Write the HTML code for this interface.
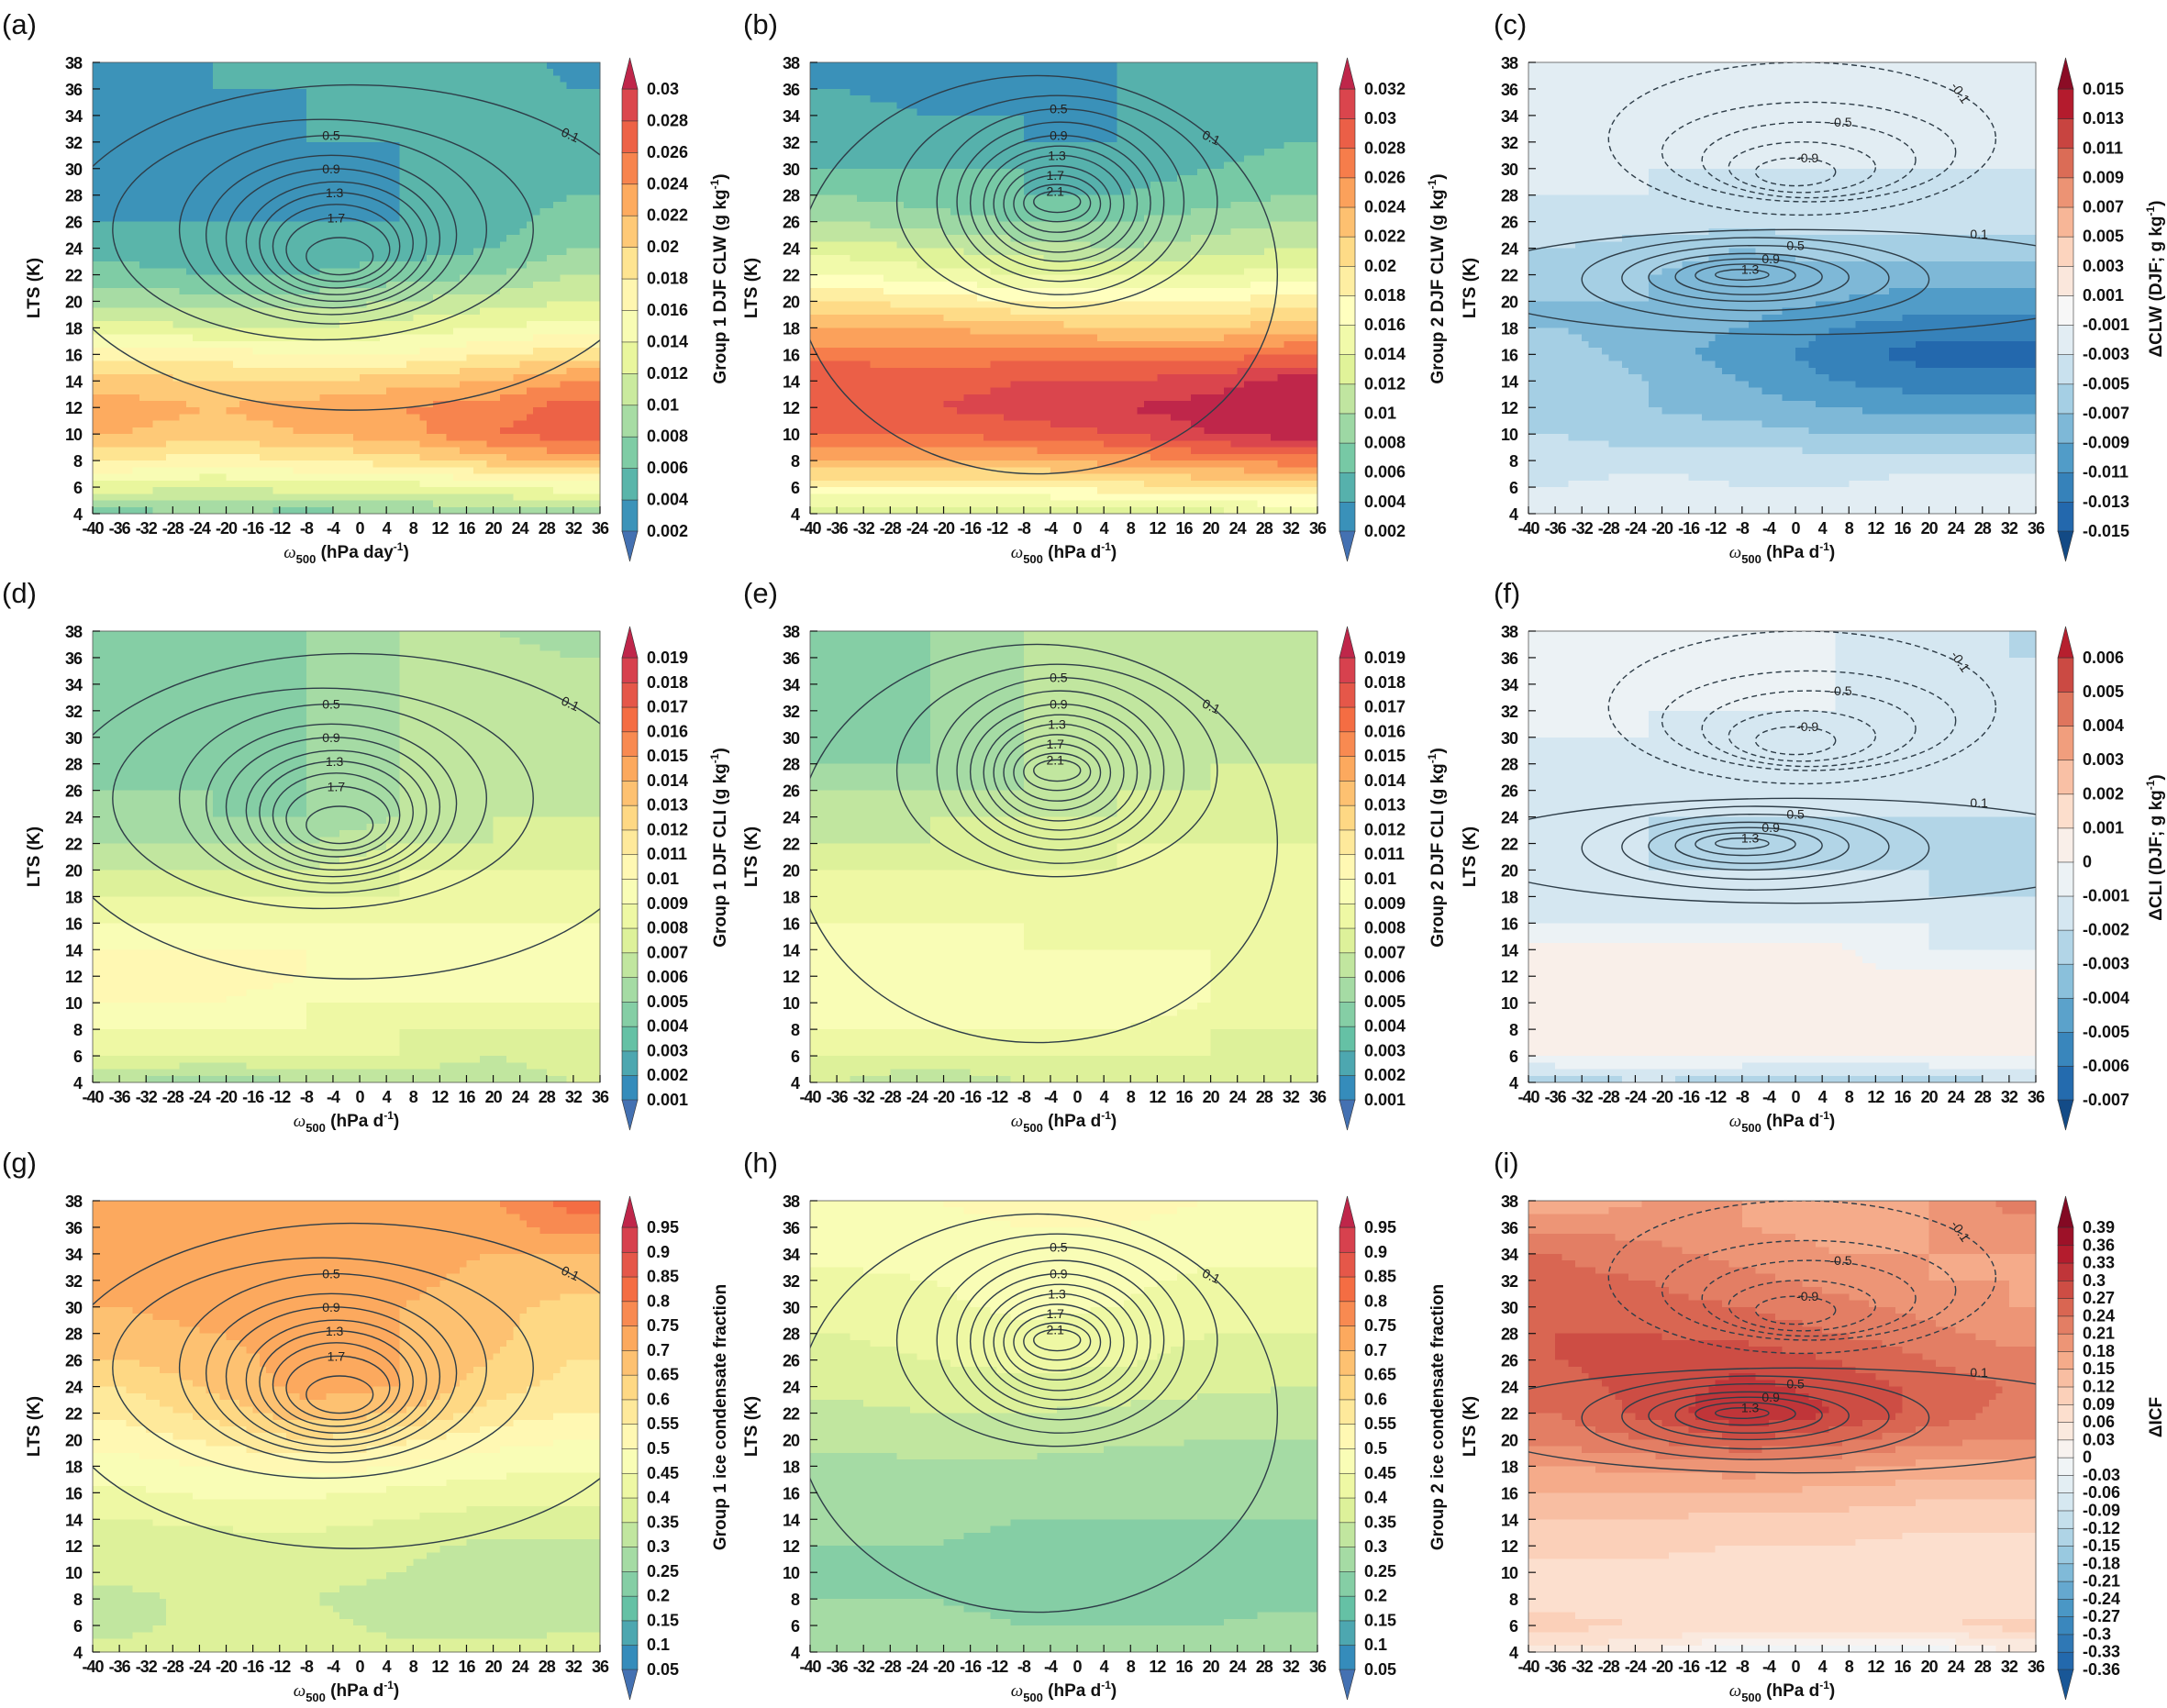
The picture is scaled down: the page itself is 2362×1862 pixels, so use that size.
<!DOCTYPE html>
<html><head><meta charset="utf-8">
<style>
html,body{margin:0;padding:0;background:#fff;}
svg{display:block;font-family:"Liberation Sans",sans-serif;}
.tk{font-size:18px;font-weight:bold;fill:#111;letter-spacing:-1px;}
.cb{font-size:18px;font-weight:bold;fill:#111;}
.ttl{font-size:19px;font-weight:bold;fill:#111;}
.pl{font-size:31px;fill:#111;}
.cl{font-size:14px;fill:#222;}
</style></head>
<body>
<svg id="fig" width="2362" height="1862" viewBox="0 0 2362 1862" xmlns="http://www.w3.org/2000/svg"></svg>
<script>
// ---------- DATA ----------
const omegaNodes=[-36,-22,-8,6,20,32];
const ltsNodes=[38,36,34,32,30,28,26,24,22,20,18,16,14,12,10,8,6,4];
const xTickLabels=[-40,-36,-32,-28,-24,-20,-16,-12,-8,-4,0,4,8,12,16,20,24,28,32,36];
const yTickLabels=[4,6,8,10,12,14,16,18,20,22,24,26,28,30,32,34,36,38];

const clwG1=[[.004,.004,.005,.005,.006,.003],[.004,.004,.004,.005,.006,.004],[.004,.004,.004,.005,.006,.006],[.004,.004,.004,.004,.005,.006],[.004,.004,.004,.004,.005,.006],[.004,.004,.004,.004,.005,.006],[.004,.004,.004,.004,.005,.007],[.005,.004,.005,.005,.006,.008],[.007,.006,.006,.007,.008,.010],[.009,.009,.009,.010,.011,.012],[.013,.012,.012,.013,.014,.015],[.017,.017,.016,.016,.018,.019],[.021,.020,.020,.021,.022,.024],[.023,.022,.023,.024,.025,.027],[.022,.021,.022,.023,.026,.027],[.018,.017,.018,.019,.021,.023],[.013,.012,.013,.013,.014,.015],[.007,.008,.007,.008,.008,.009]];
const clwG2=[[.004,.004,.004,.004,.005,.005],[.004,.003,.004,.004,.005,.005],[.005,.004,.004,.004,.005,.005],[.006,.005,.004,.004,.005,.006],[.006,.006,.006,.005,.006,.007],[.008,.007,.006,.006,.007,.008],[.010,.009,.008,.008,.009,.010],[.013,.012,.011,.010,.011,.012],[.016,.015,.014,.014,.014,.015],[.020,.019,.018,.018,.018,.019],[.024,.024,.023,.022,.022,.023],[.027,.027,.027,.027,.027,.028],[.030,.029,.030,.030,.031,.033],[.030,.030,.031,.032,.033,.034],[.028,.028,.029,.030,.032,.033],[.024,.024,.024,.025,.026,.027],[.018,.018,.018,.019,.020,.020],[.012,.012,.012,.013,.013,.014]];
const clwDiff=[[-.001,-.001,-.001,-.002,-.001,-.001],[-.001,-.002,-.001,-.002,-.002,-.001],[-.002,-.002,-.002,-.002,-.002,-.002],[-.002,-.002,-.002,-.003,-.002,-.002],[-.002,-.003,-.003,-.003,-.003,-.003],[-.003,-.003,-.004,-.004,-.004,-.003],[-.003,-.004,-.004,-.004,-.004,-.004],[-.005,-.006,-.007,-.006,-.006,-.006],[-.006,-.007,-.008,-.008,-.008,-.008],[-.007,-.007,-.008,-.009,-.010,-.010],[-.007,-.008,-.009,-.011,-.012,-.012],[-.006,-.008,-.010,-.012,-.014,-.014],[-.005,-.007,-.009,-.011,-.012,-.012],[-.006,-.007,-.008,-.009,-.010,-.010],[-.005,-.006,-.006,-.007,-.007,-.007],[-.004,-.004,-.004,-.004,-.004,-.004],[-.003,-.002,-.003,-.003,-.002,-.002],[-.002,-.001,-.002,-.002,-.002,-.002]];
const cliG1=[[.005,.005,.005,.006,.006,.005],[.005,.005,.005,.006,.007,.006],[.005,.005,.005,.006,.007,.007],[.005,.005,.005,.006,.007,.007],[.005,.005,.005,.006,.007,.007],[.005,.005,.005,.006,.007,.007],[.005,.005,.005,.006,.007,.007],[.006,.005,.005,.006,.007,.007],[.006,.006,.006,.007,.007,.008],[.007,.007,.007,.008,.008,.008],[.008,.008,.008,.008,.009,.009],[.009,.009,.009,.009,.009,.009],[.010,.010,.010,.010,.010,.010],[.011,.011,.010,.010,.010,.010],[.010,.010,.009,.009,.009,.009],[.009,.009,.009,.008,.008,.008],[.008,.008,.008,.008,.007,.008],[.006,.005,.006,.006,.006,.007]];
const cliG2=[[.005,.005,.006,.007,.007,.007],[.005,.005,.006,.007,.007,.007],[.005,.005,.006,.007,.007,.007],[.005,.005,.006,.007,.007,.007],[.005,.005,.006,.007,.007,.007],[.005,.005,.006,.007,.007,.007],[.006,.006,.006,.007,.007,.008],[.007,.007,.007,.007,.008,.008],[.007,.007,.008,.008,.008,.008],[.008,.008,.008,.008,.009,.009],[.009,.009,.009,.009,.009,.009],[.009,.009,.009,.009,.009,.009],[.010,.010,.009,.009,.009,.009],[.010,.010,.010,.010,.009,.009],[.010,.010,.010,.010,.009,.009],[.009,.009,.009,.009,.008,.008],[.008,.008,.008,.008,.008,.008],[.007,.006,.007,.007,.007,.007]];
const cliDiff=[[.000,.000,-.001,-.001,-.001,-.002],[.000,.000,.000,-.001,-.001,-.002],[.000,.000,.000,-.001,-.001,-.001],[.000,-.001,-.001,-.001,-.001,-.001],[-.001,-.001,-.001,-.001,-.001,-.001],[-.001,-.001,-.001,-.001,-.001,-.001],[-.001,-.001,-.001,-.001,-.001,-.001],[-.001,-.002,-.002,-.002,-.002,-.002],[-.001,-.002,-.003,-.002,-.002,-.002],[-.001,-.002,-.002,-.002,-.002,-.003],[-.001,-.001,-.001,-.001,-.002,-.002],[-.001,-.001,-.001,-.001,-.001,-.001],[.0002,.0002,.0002,.0002,-.001,-.001],[.0002,.0002,.0002,.0002,.0002,.0002],[.001,.0002,.0002,.001,.0002,.0002],[.0002,.0002,.0002,.0002,.0002,.0002],[.0002,.0002,.0002,.0002,.0002,.0002],[-.003,-.002,-.003,-.003,-.003,-.002]];
const icfG1=[[.70,.70,.72,.72,.75,.82],[.72,.72,.74,.72,.72,.78],[.74,.74,.75,.72,.70,.70],[.72,.74,.75,.72,.68,.66],[.70,.72,.73,.70,.66,.64],[.68,.70,.72,.70,.66,.62],[.65,.68,.72,.70,.65,.60],[.60,.66,.72,.70,.62,.58],[.56,.62,.68,.65,.58,.55],[.52,.56,.60,.56,.52,.50],[.48,.50,.52,.50,.47,.46],[.44,.46,.46,.44,.42,.42],[.40,.41,.42,.40,.38,.38],[.37,.38,.38,.36,.34,.34],[.36,.37,.36,.35,.32,.32],[.34,.36,.35,.34,.32,.33],[.34,.36,.36,.34,.34,.34],[.36,.38,.38,.36,.36,.37]];
const icfG2=[[.50,.50,.52,.52,.50,.50],[.48,.48,.50,.50,.48,.48],[.46,.47,.48,.48,.46,.46],[.44,.45,.47,.46,.44,.44],[.42,.44,.46,.45,.42,.42],[.40,.42,.44,.43,.40,.40],[.38,.40,.42,.41,.38,.38],[.36,.37,.38,.37,.36,.35],[.34,.35,.35,.34,.33,.33],[.31,.32,.32,.31,.30,.30],[.29,.29,.29,.28,.28,.28],[.27,.27,.27,.26,.26,.26],[.26,.26,.25,.25,.25,.25],[.25,.25,.24,.24,.24,.24],[.25,.25,.24,.24,.23,.24],[.25,.25,.24,.24,.24,.24],[.26,.26,.25,.25,.25,.26],[.27,.27,.26,.26,.27,.27]];
const icfDiff=[[.15,.18,.18,.15,.18,.22],[.20,.20,.18,.17,.18,.20],[.24,.22,.20,.18,.18,.18],[.25,.24,.22,.20,.18,.18],[.26,.25,.24,.22,.20,.18],[.27,.27,.26,.24,.22,.20],[.27,.28,.29,.27,.24,.22],[.26,.28,.31,.29,.26,.24],[.24,.28,.33,.30,.26,.23],[.22,.24,.27,.25,.22,.21],[.18,.19,.20,.19,.17,.17],[.15,.15,.15,.14,.13,.13],[.12,.12,.11,.11,.10,.10],[.10,.10,.09,.09,.08,.08],[.08,.08,.07,.07,.06,.06],[.08,.07,.07,.06,.06,.07],[.10,.09,.09,.09,.09,.10],[.05,.03,-.03,-.04,-.03,.03]];

// contour PDFs: level, left/right omega, top/bottom LTS extents
const g1Levels=[0.1,0.3,0.5,0.7,0.9,1.1,1.3,1.5,1.7,1.9];
const g1XL=[-46,-37,-27,-23,-20,-17,-15,-13,-11,-8];
const g1XR=[44,26,19,14.5,12,10,8,6,4.5,2];
const g1YT=[36.3,33.7,32.5,31,30,29,28.2,27.3,26.3,24.8];
const g1YB=[11.8,17.1,18.3,19,19.5,20,20.5,21,21.5,22];
const g2Levels=[0.1,0.3,0.5,0.7,0.9,1.1,1.3,1.5,1.7,1.9,2.1];
const g2XL=[-42,-27,-21,-18,-16,-14,-12.5,-11,-9.5,-8,-6.5];
const g2XR=[30,21,16,13,11,9,7,5,3.5,2,0.5];
const g2YT=[37,35.5,34.5,33.5,32.5,31.7,31,30.2,29.5,28.8,28.3];
const g2YB=[7,19.5,20.5,21.5,22.3,23,23.7,24.5,25.2,26,26.7];
const dLevels=[-0.1,-0.3,-0.5,-0.7,-0.9,0.1,0.3,0.5,0.7,0.9,1.1,1.3];
const dXL=[-28,-20,-14,-10,-6,-50,-32,-26,-22,-18,-15,-12];
const dXR=[30,24,18,12,6,50,20,14,8,4,0,-4];
const dYT=[38,35,33.5,32,30.8,25.4,24.8,24.2,23.6,23.2,22.8,22.4];
const dYB=[26.5,27.5,27.8,28.2,28.7,17.5,18.5,19.3,20,20.5,21.1,21.6];

// ---------- LAYOUT ----------
const NS='http://www.w3.org/2000/svg';
const svg=document.getElementById('fig');
const PLX=[101,883,1666], PLY=[68,688,1309], PW=553, PH=492;
const OMIN=-40,OMAX=36,LMIN=4,LMAX=38;
const spectral=['#5e4fa2','#3288bd','#66c2a5','#abdda4','#e6f598','#ffffbf','#fee08b','#fdae61','#f46d43','#d53e4f','#9e0142'];
const rdbu=['#053061','#2166ac','#4393c3','#92c5de','#d1e5f0','#f7f7f7','#fddbc7','#f4a582','#d6604d','#b2182b','#67001f'];
function hex(h){return [1,3,5].map(i=>parseInt(h.substr(i,2),16));}
function pal(stops,t){t=Math.max(0,Math.min(1,t));const f=t*(stops.length-1);const i=Math.min(stops.length-2,Math.floor(f));const u=f-i;const a=hex(stops[i]),b=hex(stops[i+1]);return 'rgb('+a.map((v,k)=>Math.round(v+(b[k]-v)*u)).join(',')+')';}
function el(tag,attrs,parent){const e=document.createElementNS(NS,tag);for(const k in attrs)e.setAttribute(k,attrs[k]);(parent||svg).appendChild(e);return e;}
function mkLevels(min,max,step){const a=[];const n=Math.round((max-min)/step);for(let i=0;i<=n;i++)a.push(+(min+i*step).toFixed(6));return a;}
function interp(grid,om,lt){
  let xi=0;while(xi<omegaNodes.length-2&&om>omegaNodes[xi+1])xi++;
  let u=(om-omegaNodes[xi])/(omegaNodes[xi+1]-omegaNodes[xi]);u=Math.max(0,Math.min(1,u));
  let yi=0;while(yi<ltsNodes.length-2&&lt<ltsNodes[yi+1])yi++;
  let v=(ltsNodes[yi]-lt)/(ltsNodes[yi]-ltsNodes[yi+1]);v=Math.max(0,Math.min(1,v));
  const a=grid[yi][xi],b=grid[yi][xi+1],c=grid[yi+1][xi],d=grid[yi+1][xi+1];
  return a*(1-u)*(1-v)+b*u*(1-v)+c*(1-u)*v+d*u*v;
}
const G1={lv:g1Levels,xl:g1XL,xr:g1XR,yt:g1YT,yb:g1YB,labels:[0.1,0.5,0.9,1.3,1.7]};
const G2={lv:g2Levels,xl:g2XL,xr:g2XR,yt:g2YT,yb:g2YB,labels:[0.1,0.5,0.9,1.3,1.7,2.1]};
const GD={lv:dLevels,xl:dXL,xr:dXR,yt:dYT,yb:dYB,labels:[-0.1,-0.5,-0.9,0.1,0.5,0.9,1.3]};
const panels=[
 {id:'a',c:0,r:0,g:clwG1,lev:[0.002,0.03,0.002],div:false,ct:G1,title:'Group 1 DJF CLW (g kg',ex:true,xu:'hPa day',lx:2},
 {id:'b',c:1,r:0,g:clwG2,lev:[0.002,0.032,0.002],div:false,ct:G2,title:'Group 2 DJF CLW (g kg',ex:true,xu:'hPa d',lx:810},
 {id:'c',c:2,r:0,g:clwDiff,lev:[-0.015,0.015,0.002],div:true,ct:GD,title:'ΔCLW (DJF; g kg',ex:true,xu:'hPa d',lx:1628},
 {id:'d',c:0,r:1,g:cliG1,lev:[0.001,0.019,0.001],div:false,ct:G1,title:'Group 1 DJF CLI (g kg',ex:true,xu:'hPa d',lx:2},
 {id:'e',c:1,r:1,g:cliG2,lev:[0.001,0.019,0.001],div:false,ct:G2,title:'Group 2 DJF CLI (g kg',ex:true,xu:'hPa d',lx:810},
 {id:'f',c:2,r:1,g:cliDiff,lev:[-0.007,0.006,0.001],div:true,ct:GD,title:'ΔCLI (DJF; g kg',ex:true,xu:'hPa d',lx:1628},
 {id:'g',c:0,r:2,g:icfG1,lev:[0.05,0.95,0.05],div:false,ct:G1,title:'Group 1 ice condensate fraction',ex:false,xu:'hPa d',lx:2},
 {id:'h',c:1,r:2,g:icfG2,lev:[0.05,0.95,0.05],div:false,ct:G2,title:'Group 2 ice condensate fraction',ex:false,xu:'hPa d',lx:810},
 {id:'i',c:2,r:2,g:icfDiff,lev:[-0.36,0.39,0.03],div:true,ct:GD,title:'ΔICF',ex:false,xu:'hPa d',lx:1628}
];

panels.forEach(p=>{
  const X0=PLX[p.c],Y0=PLY[p.r];
  const sx=v=>X0+(v-OMIN)/(OMAX-OMIN)*PW;
  const sy=v=>Y0+PH-(v-LMIN)/(LMAX-LMIN)*PH;
  const L=mkLevels(p.lev[0],p.lev[1],p.lev[2]);const n=L.length-1;
  const maxAbs=Math.max(Math.abs(L[0]),Math.abs(L[n]))+p.lev[2];
  const colors=[];
  for(let k=0;k<n+2;k++){
    if(p.div){let m;if(k===0)m=L[0]-p.lev[2]/2;else if(k===n+1)m=L[n]+p.lev[2]/2;else m=(L[k-1]+L[k])/2;
      const t=0.5+0.5*m/maxAbs;colors.push(pal(rdbu,0.02+t*0.96));}
    else colors.push(pal(spectral,0.06+0.88*k/(n+1)));
  }
  const eps=p.lev[2]*1e-4;
  const idx=v0=>{const v=v0-eps;if(v<L[0])return 0;if(v>=L[n])return n+1;for(let k=0;k<n;k++)if(v>=L[k]&&v<L[k+1])return k+1;return n;};
  const grp=el('g',{});
  
  
  const lab=el('text',{x:p.lx,y:Y0-31,class:'pl'},grp);lab.textContent='('+p.id+')';
  
  
  const hm=el('g',{'shape-rendering':'crispEdges'},grp);
  
  
  const NX=76,NY=68,cw=PW/NX,ch=PH/NY;
  for(let j=0;j<NY;j++)for(let i=0;i<NX;i++){
    const om=OMIN+(i+0.5)*(OMAX-OMIN)/NX, lt=LMAX-(j+0.5)*(LMAX-LMIN)/NY;
    const v=interp(p.g,om,lt);
    el('rect',{x:(X0+i*cw).toFixed(2),y:(Y0+j*ch).toFixed(2),width:(cw+0.6).toFixed(2),height:(ch+0.6).toFixed(2),fill:colors[idx(v)]},hm);
  }
  const cp='clip'+p.id;
  const defs=el('defs',{},grp);const cpe=el('clipPath',{id:cp},defs);el('rect',{x:X0,y:Y0,width:PW,height:PH},cpe);
  const cg=el('g',{'clip-path':'url(#'+cp+')'},grp);
  
  
  const C=p.ct;
  C.lv.forEach((lv,k)=>{
    const cx=(C.xl[k]+C.xr[k])/2,cy=(C.yt[k]+C.yb[k])/2;
    const e=el('ellipse',{cx:sx(cx),cy:sy(cy),rx:Math.abs(sx(C.xr[k])-sx(C.xl[k]))/2,ry:Math.abs(sy(C.yb[k])-sy(C.yt[k]))/2,fill:'none',stroke:'#2e3d48','stroke-width':1.4,'stroke-dasharray':lv<0?'6,4':'none'},cg);
    
    
    if(C.labels.indexOf(lv)>=0){
      let tx,ty,rot=0;
      const rxp=(sx(C.xr[k])-sx(C.xl[k]))/2, ryp=(sy(C.yb[k])-sy(C.yt[k]))/2;
      if(Math.abs(lv)===0.1){const a=lv<0?-0.62:-0.75;tx=sx(cx)+rxp*Math.cos(a)*0.98;ty=sy(cy)+ryp*Math.sin(a)*0.98;rot=lv<0?55:25;if(p.ct===GD&&lv>0){tx=sx(cx)+rxp*0.55;ty=sy(cy)-ryp*0.83;rot=0;}}
      else{tx=sx(cx)+(p.ct===GD?rxp*0.3:-2);ty=sy(C.yt[k])+5;}
      const t=el('text',{x:tx,y:ty,class:'cl','text-anchor':'middle',transform:'rotate('+rot+' '+tx+' '+ty+')'},cg);
      t.textContent=String(lv);
      
      
    }
  });
  el('rect',{x:X0,y:Y0,width:PW,height:PH,fill:'none',stroke:'#555','stroke-width':0.8},grp);
  const ax=el('g',{},grp);
  
  
  xTickLabels.forEach(v=>{
    el('line',{x1:sx(v),x2:sx(v),y1:Y0+PH,y2:Y0+PH-8,stroke:'#111','stroke-width':1.2},ax);
    const t=el('text',{x:sx(v),y:Y0+PH+22,class:'tk','text-anchor':'middle'},ax);t.textContent=v;
    
    
  });
  yTickLabels.forEach(v=>{
    el('line',{x1:X0,x2:X0+8,y1:sy(v),y2:sy(v),stroke:'#111','stroke-width':1.2},ax);
    const t=el('text',{x:X0-12,y:sy(v)+7,class:'tk','text-anchor':'end'},ax);t.textContent=v;
    
    
  });
  const yl=el('text',{x:0,y:0,class:'ttl','text-anchor':'middle',transform:'translate('+(X0-58)+','+(Y0+PH/2)+') rotate(-90)'},ax);
  yl.textContent='LTS (K)';
  
  
  const xl=el('text',{x:X0+PW/2,y:Y0+PH+48,class:'ttl','text-anchor':'middle'},ax);
  
  
  xl.innerHTML='<tspan font-style="italic" font-weight="normal" font-family="Liberation Serif">ω</tspan><tspan font-size="13" dy="6">500</tspan><tspan dy="-6"> ('+p.xu+'</tspan><tspan font-size="12" dy="-8">-1</tspan><tspan dy="8">)</tspan>';
  const cb=el('g',{},grp);
  
  
  const CX=X0+577,CW=17,CT=Y0+29,CB=Y0+511,ch2=(CB-CT)/n;
  for(let k=0;k<n;k++){el('rect',{x:CX,y:CB-(k+1)*ch2,width:CW,height:ch2+0.5,fill:colors[k+1],stroke:'#333','stroke-width':0.6},cb);}
  el('polygon',{points:CX+','+CT+' '+(CX+CW)+','+CT+' '+(CX+CW/2)+','+(Y0-5),fill:colors[n+1],stroke:'#333','stroke-width':0.6},cb);
  el('polygon',{points:CX+','+CB+' '+(CX+CW)+','+CB+' '+(CX+CW/2)+','+(Y0+544),fill:colors[0],stroke:'#333','stroke-width':0.6},cb);
  const fs=n>22?16:18;
  L.forEach((v,k)=>{
    const t=el('text',{x:CX+27,y:CB-k*ch2+6,class:'cb','font-size':fs},cb);
    t.textContent=String(+v.toFixed(4));
    
    
  });
  const ct=el('text',{x:0,y:0,class:'ttl','text-anchor':'middle',transform:'translate('+(X0+690)+','+(Y0+PH/2-10)+') rotate(-90)'},cb);
  
  
  ct.innerHTML=p.ex?p.title+'<tspan font-size="12" dy="-8">-1</tspan><tspan dy="8">)</tspan>':p.title;
});
</script>
</body></html>
